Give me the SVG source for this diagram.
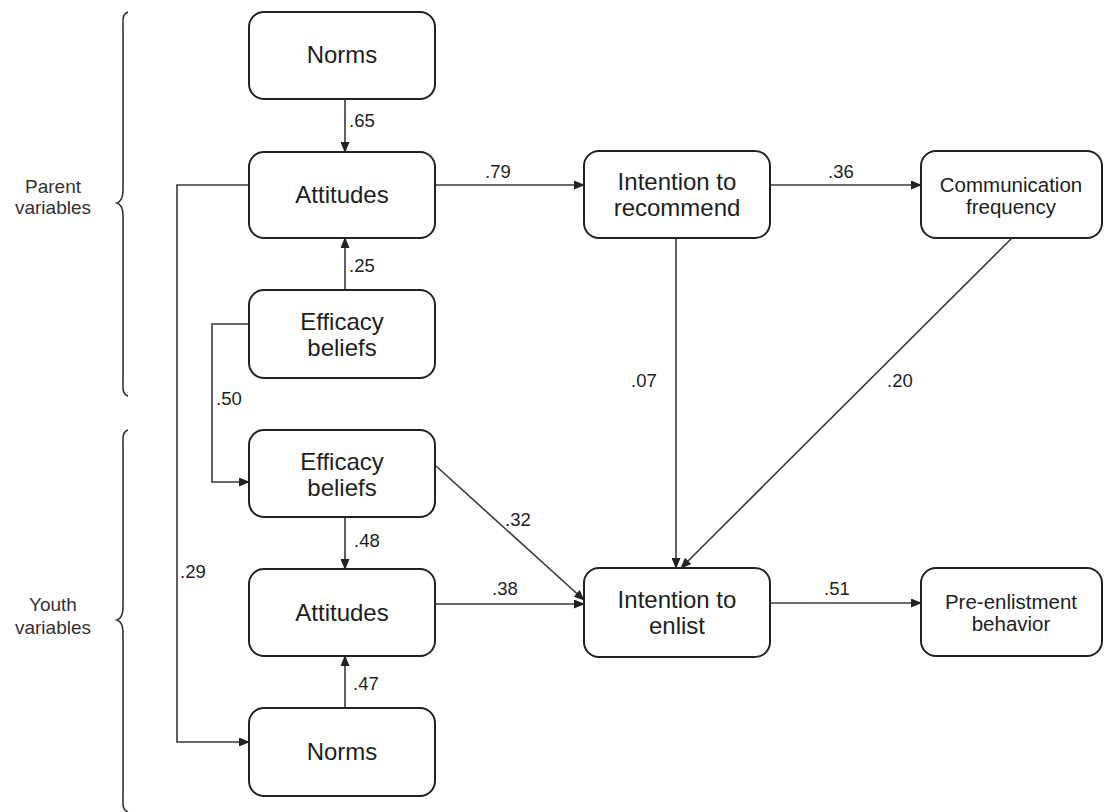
<svg xmlns="http://www.w3.org/2000/svg" width="1105" height="812" viewBox="0 0 1105 812">
<style>
.box{fill:#fff;stroke:#222;stroke-width:2}
.nt{font-family:"Liberation Sans",Arial,sans-serif;font-size:24px;fill:#1e1e1e;text-anchor:middle}
.st{font-family:"Liberation Sans",Arial,sans-serif;font-size:20.5px;fill:#1e1e1e;text-anchor:middle}
.lb{font-family:"Liberation Sans",Arial,sans-serif;font-size:18.5px;fill:#1e1e1e}
.gt{font-family:"Liberation Sans",Arial,sans-serif;font-size:19px;fill:#333;text-anchor:middle}
.ln{fill:none;stroke:#3a3a3a;stroke-width:1.6}
.br{fill:none;stroke:#333;stroke-width:1.6}
</style>
<defs>
<marker id="ah" markerUnits="userSpaceOnUse" markerWidth="11" markerHeight="9" refX="10" refY="4.5" orient="auto">
<path d="M0,0 L11,4.5 L0,9 z" fill="#222"/>
</marker>
</defs>
<rect width="1105" height="812" fill="#fff"/>

<g id="groups">
<path class="br" d="M128,12 C122,14 123,20 123,28 L123,190 C123,198 120,202 117,203 C120,204 123,208 123,216 L123,380 C123,388 122,394 128,396"/>
<text class="gt" x="53" y="193">Parent</text>
<text class="gt" x="53" y="214">variables</text>
<path class="br" d="M128,430 C122,432 123,438 123,446 L123,607 C123,615 120,619 117,620 C120,621 123,625 123,633 L123,796 C123,804 122,810 128,812"/>
<text class="gt" x="53" y="611">Youth</text>
<text class="gt" x="53" y="634">variables</text>
</g>

<g id="connectors">
<line class="ln" x1="345" y1="99" x2="345" y2="152" marker-end="url(#ah)"/>
<line class="ln" x1="345" y1="290" x2="345" y2="238" marker-end="url(#ah)"/>
<line class="ln" x1="435" y1="185" x2="584" y2="185" marker-end="url(#ah)"/>
<line class="ln" x1="770" y1="185" x2="921" y2="185" marker-end="url(#ah)"/>
<polyline class="ln" points="249,185 177,185 177,742 249,742" marker-end="url(#ah)"/>
<polyline class="ln" points="249,324 212,324 212,482 249,482" marker-end="url(#ah)"/>
<line class="ln" x1="345" y1="517" x2="345" y2="569" marker-end="url(#ah)"/>
<line class="ln" x1="345" y1="708" x2="345" y2="656" marker-end="url(#ah)"/>
<line class="ln" x1="436" y1="466" x2="584" y2="600" marker-end="url(#ah)"/>
<line class="ln" x1="435" y1="604" x2="584" y2="604" marker-end="url(#ah)"/>
<line class="ln" x1="676" y1="238" x2="676" y2="568" stroke="#555" stroke-width="2" marker-end="url(#ah)"/>
<line class="ln" x1="1012" y1="238" x2="681" y2="568" marker-end="url(#ah)"/>
<line class="ln" x1="770" y1="603" x2="921" y2="603" marker-end="url(#ah)"/>
<text class="lb" x="349" y="127">.65</text>
<text class="lb" x="349" y="272">.25</text>
<text class="lb" x="216" y="405">.50</text>
<text class="lb" x="485" y="178">.79</text>
<text class="lb" x="828" y="178">.36</text>
<text class="lb" x="631" y="387">.07</text>
<text class="lb" x="887" y="387">.20</text>
<text class="lb" x="505" y="526">.32</text>
<text class="lb" x="492" y="595">.38</text>
<text class="lb" x="824" y="595">.51</text>
<text class="lb" x="354" y="547">.48</text>
<text class="lb" x="180" y="578">.29</text>
<text class="lb" x="353" y="690">.47</text>
</g>

<g id="parent-norms">
<rect class="box" x="249" y="12" width="186" height="87" rx="15"/>
<text class="nt" x="342" y="63">Norms</text>
</g>
<g id="parent-attitudes">
<rect class="box" x="249" y="152" width="186" height="86" rx="15"/>
<text class="nt" x="342" y="203">Attitudes</text>
</g>
<g id="parent-efficacy">
<rect class="box" x="249" y="290" width="186" height="88" rx="15"/>
<text class="nt" x="342" y="330">Efficacy</text>
<text class="nt" x="342" y="356">beliefs</text>
</g>
<g id="youth-efficacy">
<rect class="box" x="249" y="430" width="186" height="87" rx="15"/>
<text class="nt" x="342" y="470">Efficacy</text>
<text class="nt" x="342" y="496">beliefs</text>
</g>
<g id="youth-attitudes">
<rect class="box" x="249" y="569" width="186" height="87" rx="15"/>
<text class="nt" x="342" y="621">Attitudes</text>
</g>
<g id="youth-norms">
<rect class="box" x="249" y="708" width="186" height="88" rx="15"/>
<text class="nt" x="342" y="760">Norms</text>
</g>
<g id="intention-recommend">
<rect class="box" x="584" y="151" width="186" height="87" rx="15"/>
<text class="nt" x="677" y="190">Intention to</text>
<text class="nt" x="677" y="216">recommend</text>
</g>
<g id="communication-frequency">
<rect class="box" x="921" y="151" width="181" height="87" rx="15"/>
<text class="st" x="1011" y="192">Communication</text>
<text class="st" x="1011" y="214">frequency</text>
</g>
<g id="intention-enlist">
<rect class="box" x="584" y="568" width="186" height="89" rx="15"/>
<text class="nt" x="677" y="608">Intention to</text>
<text class="nt" x="677" y="634">enlist</text>
</g>
<g id="pre-enlistment">
<rect class="box" x="921" y="568" width="181" height="88" rx="15"/>
<text class="st" x="1011" y="609">Pre-enlistment</text>
<text class="st" x="1011" y="631">behavior</text>
</g>
</svg>
